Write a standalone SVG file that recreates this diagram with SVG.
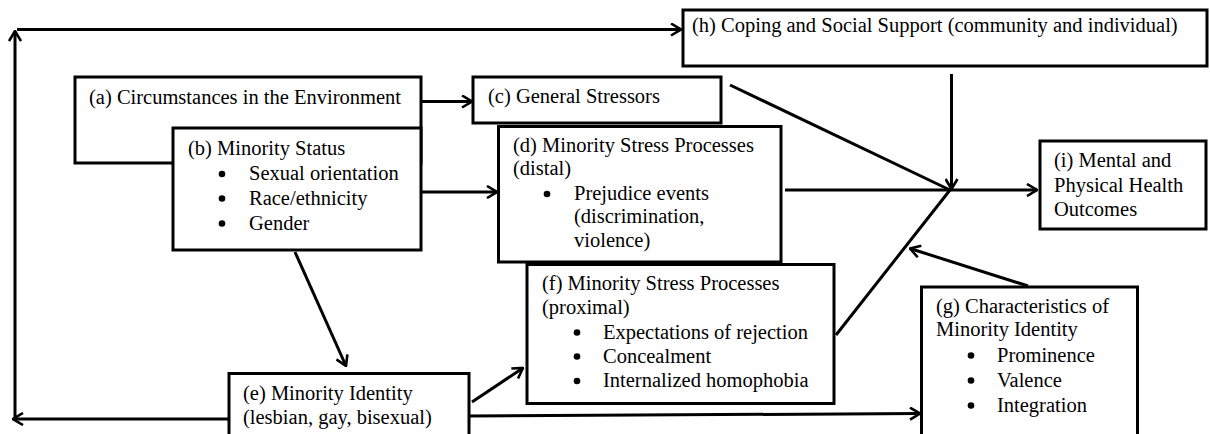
<svg xmlns="http://www.w3.org/2000/svg" width="1210" height="434" viewBox="0 0 1210 434">
<defs>
<style>
.box{fill:#fff;stroke:#000;stroke-width:3}
.t{font-family:"Liberation Serif","Times New Roman",serif;font-size:20.5px;fill:#000}
.c{fill:none;stroke:#000;stroke-width:3}
.b{fill:#000}
</style>
<marker id="ah" viewBox="0 0 12 14" refX="11" refY="7" markerWidth="12" markerHeight="14" markerUnits="userSpaceOnUse" orient="auto">
<path d="M1,1 L11,7 L1,13" fill="none" stroke="#000" stroke-width="2.6" stroke-linejoin="miter"/>
</marker>
</defs>
<rect width="1210" height="434" fill="#fff"/>
<g id="connectors">
<path class="c" d="M229,419 L13,419" marker-end="url(#ah)"/>
<path class="c" d="M15,417 L15,31" marker-end="url(#ah)"/>
<path class="c" d="M17,29.5 L681,29.5" marker-end="url(#ah)"/>
<path class="c" d="M421,101.5 L472,101.5" marker-end="url(#ah)"/>
<path class="c" d="M421,192 L497,192" marker-end="url(#ah)"/>
<path class="c" d="M295,252 L346,366" marker-end="url(#ah)"/>
<path class="c" d="M472,402 L523,368" marker-end="url(#ah)"/>
<path class="c" d="M469,416 L920,413.5" marker-end="url(#ah)"/>
<path class="c" d="M730,85 L950,190"/>
<path class="c" d="M951.5,74 L951.5,189" marker-end="url(#ah)"/>
<path class="c" d="M785,190 L1037,190" marker-end="url(#ah)"/>
<path class="c" d="M836,335 L950,190"/>
<path class="c" d="M1028,286 L910,248.5" marker-end="url(#ah)"/>
</g>
<g id="node-h">
<rect class="box" x="683" y="10" width="524" height="56"/>
<text class="t" x="692" y="32">(h) Coping and Social Support (community and individual)</text>
</g>
<g id="node-a">
<rect class="box" x="75" y="77" width="346" height="86"/>
<text class="t" x="89" y="104">(a) Circumstances in the Environment</text>
</g>
<g id="node-b">
<rect class="box" x="173" y="128" width="248" height="122"/>
<text class="t" x="188" y="155">(b) Minority Status</text>
<circle class="b" cx="222" cy="174" r="3.3"/>
<circle class="b" cx="222" cy="198.5" r="3.3"/>
<circle class="b" cx="222" cy="223.5" r="3.3"/>
<text class="t" x="249" y="180">Sexual orientation</text>
<text class="t" x="249" y="204.5">Race/ethnicity</text>
<text class="t" x="249" y="229.5">Gender</text>
</g>
<g id="node-c">
<rect class="box" x="473" y="77" width="248" height="46"/>
<text class="t" x="488" y="103">(c) General Stressors</text>
</g>
<g id="node-d">
<rect class="box" x="498.5" y="126.5" width="282.5" height="135.5"/>
<text class="t" x="513" y="151.5">(d) Minority Stress Processes</text>
<text class="t" x="513" y="175">(distal)</text>
<circle class="b" cx="547" cy="194" r="3.3"/>
<text class="t" x="574" y="199.5">Prejudice events</text>
<text class="t" x="574" y="223">(discrimination,</text>
<text class="t" x="574" y="246.5">violence)</text>
</g>
<g id="node-f">
<rect class="box" x="527" y="264.5" width="307" height="139"/>
<text class="t" x="542" y="290">(f) Minority Stress Processes</text>
<text class="t" x="542" y="314">(proximal)</text>
<circle class="b" cx="577" cy="332.5" r="3.3"/>
<circle class="b" cx="577" cy="356.5" r="3.3"/>
<circle class="b" cx="577" cy="381" r="3.3"/>
<text class="t" x="603" y="338.5">Expectations of rejection</text>
<text class="t" x="603" y="362.5">Concealment</text>
<text class="t" x="603" y="387">Internalized homophobia</text>
</g>
<g id="node-e">
<rect class="box" x="229" y="373.5" width="240" height="70"/>
<text class="t" x="243" y="399.5">(e) Minority Identity</text>
<text class="t" x="243" y="423.5">(lesbian, gay, bisexual)</text>
</g>
<g id="node-i">
<rect class="box" x="1040" y="141" width="166" height="88"/>
<text class="t" x="1054" y="167">(i) Mental and</text>
<text class="t" x="1054" y="191.5">Physical Health</text>
<text class="t" x="1054" y="216">Outcomes</text>
</g>
<g id="node-g">
<rect class="box" x="921.5" y="287" width="216" height="160"/>
<text class="t" x="936" y="312.5">(g) Characteristics of</text>
<text class="t" x="936" y="336">Minority Identity</text>
<circle class="b" cx="971" cy="355.5" r="3.3"/>
<circle class="b" cx="971" cy="380.5" r="3.3"/>
<circle class="b" cx="971" cy="405.5" r="3.3"/>
<text class="t" x="997" y="361.5">Prominence</text>
<text class="t" x="997" y="386.5">Valence</text>
<text class="t" x="997" y="411.5">Integration</text>
</g>
</svg>
